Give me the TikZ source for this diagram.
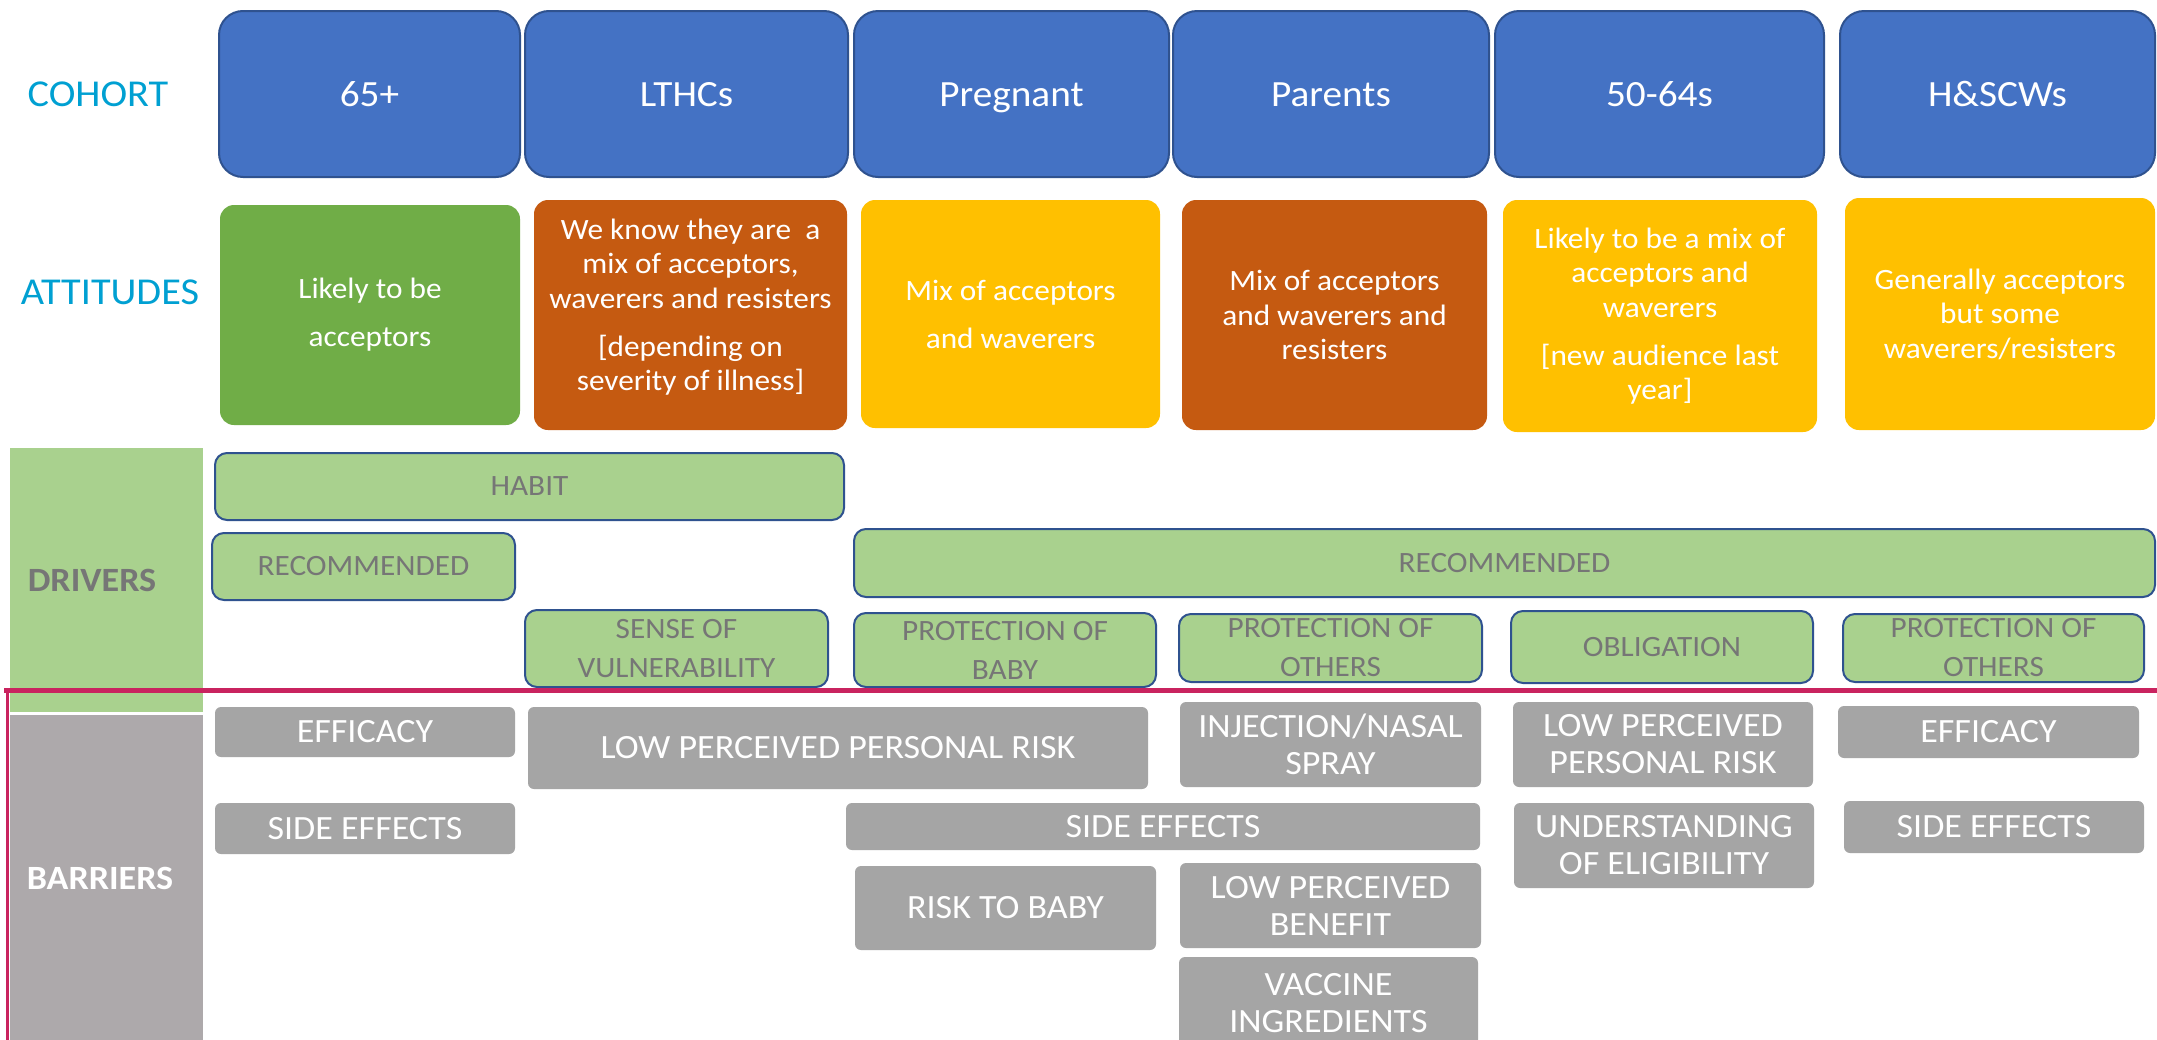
\documentclass[tikz,border=0pt]{standalone}
\usepackage{fontspec}
\setmainfont{Carlito}[FakeStretch=1.06]
\definecolor{cohortblue}{HTML}{4472C4}
\definecolor{bordblue}{HTML}{2F528F}
\definecolor{attgreen}{HTML}{70AD47}
\definecolor{attorange}{HTML}{C55A11}
\definecolor{attyellow}{HTML}{FFC000}
\definecolor{drvgreen}{HTML}{A9D18E}
\definecolor{drvtext}{HTML}{767676}
\definecolor{barrgray}{HTML}{A5A5A5}
\definecolor{labelgray}{HTML}{ADA9AB}
\definecolor{labelcyan}{HTML}{00A0D2}
\definecolor{framered}{HTML}{C9235F}
\newcommand\mybox[7]{\node[inner xsep=0pt, inner ysep=-12pt, #6, minimum width={(#4)-(#2)}, minimum height={(#5)-(#3)}] (#1) at ({((#2)+(#4))/2},{-((#3)+(#5))/2}) {#7};}
\tikzset{
  cohortbox/.style={draw=bordblue, line width=2pt, fill=cohortblue, rounded corners=24pt, text=white, font=\fontsize{37}{44}\selectfont, text height=24pt, text depth=0pt, inner ysep=0pt},
  attbox/.style={rounded corners=14pt, text=white, font=\fontsize{29.5}{34.5}\selectfont, align=center},
  drvbox/.style={draw=bordblue, line width=2pt, fill=drvgreen, rounded corners=12pt, text=drvtext, font=\fontsize{29.5}{39}\selectfont, align=center},
  barbox/.style={fill=barrgray, rounded corners=6pt, text=white, font=\fontsize{34}{37}\selectfont, align=center},
  rowlabel/.style={text=labelcyan, font=\fontsize{38}{46}\selectfont},
  sidelabel/.style={font=\fontsize{34}{42}\selectfont\bfseries},
}
\begin{document}
\begin{tikzpicture}[x=1pt,y=1pt]
\useasboundingbox (0,0) rectangle (2157,-1039);
\fill[white] (0,0) rectangle (2157,-1039);
% row labels
\node[rowlabel] (lcohort) at (98,-94) {COHORT};
\node[rowlabel] (lattitudes) at (110,-292) {ATTITUDES};
% cohort
\mybox{c1}{219}{11}{520}{177}{cohortbox}{65+}
\mybox{c2}{525}{11}{848}{177}{cohortbox}{LTHCs}
\mybox{c3}{854}{11}{1169}{177}{cohortbox}{Pregnant}
\mybox{c4}{1173}{11}{1489}{177}{cohortbox}{Parents}
\mybox{c5}{1495}{11}{1824}{177}{cohortbox}{50-64s}
\mybox{c6}{1840}{11}{2155}{177}{cohortbox}{H\&SCWs}
% attitudes
\mybox{a1}{220}{205}{520}{425}{attbox,fill=attgreen}{Likely to be\\[13.5pt]acceptors}
\mybox{a2}{534}{200}{847}{430}{attbox,fill=attorange}{We know they are\ \ a\\mix of acceptors,\\waverers and resisters\\[13.5pt][depending on\\severity of illness]\\[-14pt]\mbox{}}
\mybox{a3}{861}{200}{1160}{428}{attbox,fill=attyellow}{Mix of acceptors\\[13.5pt]and waverers}
\mybox{a4}{1182}{200}{1487}{430}{attbox,fill=attorange}{Mix of acceptors\\and waverers and\\resisters}
\mybox{a5}{1503}{200}{1817}{432}{attbox,fill=attyellow}{Likely to be a mix of\\acceptors and\\waverers\\[13.5pt][new audience last\\year]}
\mybox{a6}{1845}{198}{2155}{430}{attbox,fill=attyellow}{Generally acceptors\\but some\\waverers/resisters}
% drivers
\mybox{ldrivers}{10}{448}{203}{712}{fill=drvgreen}{}
\node[sidelabel, text=drvtext] (tdrivers) at (92,-580) {DRIVERS};
\mybox{habit}{215}{453}{844}{520}{drvbox}{HABIT}
\mybox{rec1}{212}{533}{515}{600}{drvbox}{RECOMMENDED}
\mybox{rec2}{854}{529}{2155}{597}{drvbox}{RECOMMENDED}
\mybox{sense}{525}{610}{828}{687}{drvbox}{SENSE OF\\VULNERABILITY}
\mybox{pbaby}{854}{613}{1156}{687}{drvbox}{PROTECTION OF\\BABY}
\mybox{poth1}{1179}{614}{1482}{682}{drvbox}{PROTECTION OF\\OTHERS}
\mybox{oblig}{1511}{611}{1813}{683}{drvbox}{OBLIGATION}
\mybox{poth2}{1843}{614}{2144}{682}{drvbox}{PROTECTION OF\\OTHERS}
% barriers
\mybox{lbarriers}{10}{715}{203}{1045}{fill=labelgray}{}
\node[sidelabel, text=white] (tbarriers) at (100,-878) {BARRIERS};
\mybox{eff1}{215}{707}{515}{757}{barbox}{EFFICACY}
\mybox{lppr1}{528}{707}{1148}{789}{barbox}{LOW PERCEIVED PERSONAL RISK}
\mybox{se1}{215}{803}{515}{854}{barbox}{SIDE EFFECTS}
\mybox{se2}{846}{803}{1480}{850}{barbox}{SIDE EFFECTS}
\mybox{rtb}{855}{866}{1156}{950}{barbox}{RISK TO BABY}
\mybox{inj}{1180}{702}{1481}{787}{barbox}{INJECTION/NASAL\\SPRAY}
\mybox{lpb}{1180}{863}{1481}{948}{barbox}{LOW PERCEIVED\\BENEFIT}
\mybox{vi}{1179}{957}{1478}{1050}{barbox}{VACCINE\\INGREDIENTS}
\mybox{lppr2}{1513}{702}{1813}{787}{barbox}{LOW PERCEIVED\\PERSONAL RISK}
\mybox{und}{1514}{803}{1814}{888}{barbox}{UNDERSTANDING\\OF ELIGIBILITY}
\mybox{eff2}{1838}{706}{2139}{758}{barbox}{EFFICACY}
\mybox{se3}{1844}{801}{2144}{853}{barbox}{SIDE EFFECTS}
% red frame
\draw[framered, line width=5pt] (4,-690) -- (2160,-690);
\draw[framered, line width=3pt] (7,-690) -- (7,-1045);
\end{tikzpicture}
\end{document}
